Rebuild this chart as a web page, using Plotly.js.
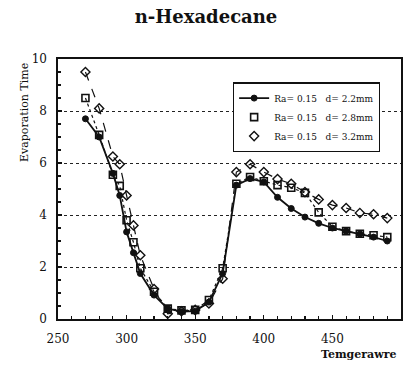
<!DOCTYPE html>
<html>
<head>
<meta charset="utf-8">
<script src="https://cdn.plot.ly/plotly-3.0.1.min.js"></script>
<style>html,body{margin:0;padding:0;background:#fff;}#chart{width:412px;height:367px;}</style>
</head>
<body>
<div id="chart"></div>
<script>
// Temperature (x) values
const temperature = [270, 280, 290, 295, 300, 305, 310, 320, 330, 340, 350, 360, 370, 380, 390, 400, 410, 420, 430, 440, 450, 460, 470, 480, 490];
// Evaporation time for each droplet diameter
const evap_d22 = [7.7, 7.0, 5.6, 4.75, 3.35, 2.55, 1.75, 0.92, 0.4, 0.28, 0.3, 0.65, 1.75, 5.15, 5.4, 5.27, 4.68, 4.25, 3.92, 3.68, 3.5, 3.38, 3.27, 3.15, 3.0];
const evap_d28 = [8.5, 7.08, 5.55, 5.12, 3.8, 2.95, 1.95, 1.05, 0.4, 0.33, 0.35, 0.73, 1.95, 5.2, 5.46, 5.3, 5.15, 5.05, 4.85, 4.1, 3.55, 3.38, 3.28, 3.22, 3.15];
const evap_d32 = [9.5, 8.1, 6.25, 5.95, 4.75, 3.6, 2.45, 1.15, 0.2, 0.3, 0.35, 0.6, 1.55, 5.65, 5.95, 5.65, 5.38, 5.2, 4.88, 4.6, 4.38, 4.27, 4.08, 4.03, 3.88];
const seriesNames = ["Ra= 0.15\u00a0\u00a0 d= 2.2mm", "Ra= 0.15\u00a0\u00a0 d= 2.8mm", "Ra= 0.15\u00a0\u00a0 d= 3.2mm"];
const xTickVals = [250, 300, 350, 400, 450, 500];
const yTickVals = [0, 2, 4, 6, 8, 10];

const serif = "DejaVu Serif, Liberation Serif, serif";

const traces = [
  {x: temperature, y: evap_d28, mode: "lines", line: {color: "#111", width: 1.2, dash: "dot"}, showlegend: false, hoverinfo: "skip"},
  {x: temperature, y: evap_d32, mode: "lines", line: {color: "#111", width: 1.2, dash: "dash"}, showlegend: false, hoverinfo: "skip"},
  {x: temperature, y: evap_d22, mode: "lines+markers", name: seriesNames[0],
   line: {color: "#111", width: 1.8},
   marker: {symbol: "circle", size: 6, color: "#111", line: {color: "#111", width: 1}}},
  {x: temperature, y: evap_d28, mode: "markers", name: seriesNames[1],
   marker: {symbol: "square-open", size: 7, color: "#111", line: {color: "#111", width: 1.6}}},
  {x: temperature, y: evap_d32, mode: "markers", name: seriesNames[2],
   marker: {symbol: "diamond-open", size: 7, color: "#111", line: {color: "#111", width: 1.4}}}
];

const layout = {
  width: 412, height: 367,
  margin: {l: 58, r: 11, t: 59, b: 48},
  paper_bgcolor: "#fff", plot_bgcolor: "#fff",
  font: {family: serif, color: "#111", size: 12},
  title: {text: "<b>n-Hexadecane</b>", font: {family: serif, size: 18, color: "#111"}, x: 0.5, xanchor: "center", y: 0.955, yanchor: "middle"},
  xaxis: {
    range: [250, 500], tickvals: xTickVals, ticks: "inside", ticklen: 4, tickwidth: 1.2, tickcolor: "#111",
    minor: {dtick: 10, ticks: "inside", ticklen: 3, tickcolor: "#111"},
    showline: true, linecolor: "#111", linewidth: 1.6, mirror: true,
    showgrid: false, zeroline: false, ticklabelstandoff: 8,
    tickfont: {family: serif, size: 12, color: "#111"}
  },
  yaxis: {
    range: [0, 10], tickvals: yTickVals, ticks: "inside", ticklen: 4, tickwidth: 1.2, tickcolor: "#111",
    minor: {dtick: 0.5, ticks: "inside", ticklen: 3, tickcolor: "#111", showgrid: false},
    showline: true, linecolor: "#111", linewidth: 1.6, mirror: true,
    showgrid: true, gridcolor: "#222", gridwidth: 1, griddash: "dot",
    zeroline: false, ticklabelstandoff: 7,
    tickfont: {family: serif, size: 12, color: "#111"}
  },
  legend: {
    x: 0.51, y: 0.91, xanchor: "left", yanchor: "top",
    bgcolor: "#fff", bordercolor: "#111", borderwidth: 1.2,
    font: {family: serif, size: 9, color: "#111"},
    tracegroupgap: 0, itemwidth: 30
  },
  annotations: [
    {text: "Evaporation Time", textangle: -90, xref: "paper", yref: "paper",
     x: -0.097, y: 0.795, xanchor: "center", yanchor: "middle", showarrow: false,
     font: {family: serif, size: 11, color: "#111"}},
    {text: "<b>Temgerawre</b>", xref: "paper", yref: "paper",
     x: 0.99, y: -0.135, xanchor: "right", yanchor: "middle", showarrow: false,
     font: {family: serif, size: 11, color: "#111"}}
  ],
  showlegend: true
};

Plotly.newPlot("chart", traces, layout, {staticPlot: true, displayModeBar: false});
</script>
</body>
</html>
